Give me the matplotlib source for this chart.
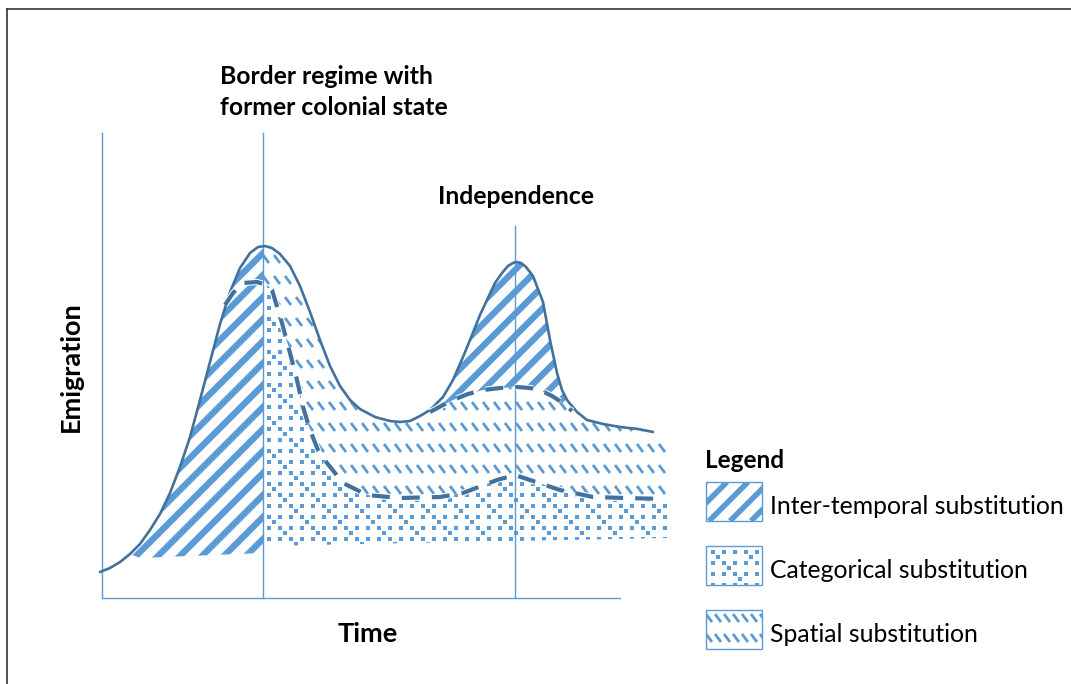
import numpy as np
import matplotlib.pyplot as plt
from matplotlib.patches import Polygon, Rectangle
from matplotlib.collections import LineCollection
import matplotlib.patheffects as pe

# emigration curve (x = time, y = level, screen units, y downwards)
emig_x = [100, 110, 120, 130, 140, 150, 160, 170, 180, 190, 200, 210, 220, 230, 240, 250,
          258, 265, 272, 280, 290, 300, 310, 320, 330, 340, 350, 360, 375, 390, 400, 410,
          420, 430, 443, 453, 463, 470, 480, 487, 495, 502, 508, 513, 517, 521, 526, 533, 543, 550,
          557, 562, 567, 577, 587, 603, 620, 638, 653]
emig_y = [572, 568, 562, 554, 544, 530, 514, 493, 467, 437, 400, 362, 324, 292, 268, 253,
          247, 246, 248, 254, 266, 286, 312, 340, 366, 386, 400, 409, 417, 421, 422, 421,
          416, 410, 397, 380, 357, 340, 315, 300, 283, 273, 266, 263, 262, 263, 267, 276, 302, 340,
          373, 390, 400, 412, 420, 424, 427, 429, 432]

# lower dashed line (after the first peak)
low_x = [225, 233, 243, 257, 267, 272, 282, 290, 297, 303, 310, 318, 327, 343, 367, 400,
         440, 463, 497, 515, 530, 560, 593, 625, 665]
low_y = [305, 293, 283, 282, 285, 290, 323, 353, 380, 407, 430, 450, 463, 483, 495, 498,
         497, 493, 480, 475, 480, 490, 497, 498, 499]

# upper dashed line (second peak)
up_x = [430, 443, 453, 468, 483, 500, 517, 530, 540, 552, 563, 572]
up_y = [412, 405, 400, 394, 390, 388, 387, 388, 390, 396, 403, 411]

border_x = 263
indep_x = 515

legend_labels = ['Inter-temporal substitution', 'Categorical substitution', 'Spatial substitution']

dark = '#41719C'
light = '#5B9BD5'
font = ['Lato', 'DejaVu Sans']

fig = plt.figure(figsize=(10.71, 6.84), dpi=100)
ax = fig.add_axes([0, 0, 1, 1])
ax.set_xlim(0, 1071)
ax.set_ylim(684, 0)
ax.axis('off')

ex = np.array(emig_x)
ey = np.array(emig_y)
lx = np.array(low_x)
ly = np.array(low_y)
ux = np.array(up_x)
uy = np.array(up_y)


def clip_poly(pts):
    p = Polygon(pts, closed=True, facecolor='none', edgecolor='none', transform=ax.transData)
    ax.add_patch(p)
    return p


def stripes(clip, x0, x1, y0, y1, step=22, lw=4.6, z=2):
    segs = []
    h = y1 - y0
    for c in np.arange(x0 - h, x1 + h, step):
        segs.append([(c, y1), (c + h, y0)])
    lc = LineCollection(segs, colors=light, linewidths=lw, zorder=z)
    ax.add_collection(lc)
    lc.set_clip_path(clip)


def dots(clip, x0, x1, y0, y1, dx=11, dy=11, z=2):
    xs, ys = [], []
    for y in np.arange(y0, y1, dy):
        for x in np.arange(x0, x1, dx):
            xs.append(x)
            ys.append(y)
    # sparse in-between rows
    for i, y in enumerate(np.arange(y0 + dy / 2, y1, dy)):
        for x in np.arange(x0 + dx / 2 + (i % 3) * dx, x1, 3 * dx):
            xs.append(x)
            ys.append(y)
    sc = ax.scatter(xs, ys, s=7.5, marker='s', color=light, linewidths=0, zorder=z)
    sc.set_clip_path(clip)


def spatial(clip, x0, x1, y0, y1, dx=11, dy=21, z=2):
    segs = []
    for y in np.arange(y0, y1, dy):
        for x in np.arange(x0, x1, dx):
            segs.append([(x, y - 4), (x + 6, y + 4)])
    lc = LineCollection(segs, colors=light, linewidths=2.0, zorder=z)
    ax.add_collection(lc)
    lc.set_clip_path(clip)


# inter-temporal, left of the border line
m = (ex >= 125) & (ex <= border_x)
pts = list(zip(ex[m], ey[m])) + [(border_x, 246), (border_x, 553), (140, 558)]
stripes(clip_poly(pts), 100, 270, 240, 560)

# inter-temporal, second peak above the upper dashed line
m = (ex > 430) & (ex < 572)
pts = list(zip(ex[m], ey[m])) + list(zip(ux[::-1], uy[::-1]))
stripes(clip_poly(pts), 420, 580, 255, 415)

# categorical, below the lower dashed line
m = lx >= border_x
pts = [(border_x, 283)] + list(zip(lx[m], ly[m])) + [(668, 499), (668, 538), (border_x, 546)]
dots(clip_poly(pts), border_x + 5.5, 670, 252.5, 550)

# spatial, between the curve and the lower dashed line
top = [(x, y) for x, y in zip(ex, ey) if border_x <= x <= 430]
top += list(zip(ux, uy))
top += [(x, y) for x, y in zip(ex, ey) if x > 572] + [(668, 435)]
bot = [(border_x, 283)] + list(zip(lx[m], ly[m])) + [(668, 499)]
pts = [(border_x, 246)] + top + bot[::-1]
spatial(clip_poly(pts), border_x, 672, 259, 505)

# axis lines and the two event lines
ax.plot([102, 102], [133, 598], color=light, lw=1.0, zorder=3)
ax.plot([102, 620], [598, 598], color=light, lw=1.0, zorder=3)
ax.plot([border_x, border_x], [133, 598], color=light, lw=1.0, zorder=3)
ax.plot([indep_x, indep_x], [226, 598], color=light, lw=1.0, zorder=3)

# curves
ax.plot(ex, ey, color=dark, lw=1.9, zorder=4, solid_capstyle='round')
halo = [pe.Stroke(linewidth=4.5, foreground='white'), pe.Normal()]
ax.plot(lx, ly, color=dark, lw=3.0, dashes=(4.3, 2.9), dash_capstyle='butt', zorder=5,
        path_effects=halo)
ax.plot(ux, uy, color=dark, lw=3.0, dashes=(4.3, 2.9), dash_capstyle='butt', zorder=5,
        path_effects=halo)

# texts
ax.text(220, 92, 'Border regime with\nformer colonial state', fontsize=17.8, fontweight='bold',
        family=font, va='center', ha='left', linespacing=1.4)
ax.text(516, 197, 'Independence', fontsize=17.8, fontweight='bold', family=font,
        va='center', ha='center')
ax.text(71, 367, 'Emigration', fontsize=19.5, fontweight='bold', family=font,
        va='center', ha='center', rotation=90)
ax.text(368, 634, 'Time', fontsize=19.5, fontweight='bold', family=font,
        va='center', ha='center')

# legend
ax.text(705, 460, 'Legend', fontsize=17.5, fontweight='bold', family=font, va='center', ha='left')
boxes = [(706, 482), (706, 546), (706, 610)]
for k, ((bx, by), lab) in enumerate(zip(boxes, legend_labels)):
    r = Rectangle((bx, by), 56, 39, facecolor='white', edgecolor=light, lw=1.0, zorder=3)
    ax.add_patch(r)
    clip = Rectangle((bx, by), 56, 39, facecolor='none', edgecolor='none', transform=ax.transData)
    ax.add_patch(clip)
    if k == 0:
        stripes(clip, bx, bx + 56, by, by + 39, step=21, lw=4.0, z=4)
    elif k == 1:
        dots(clip, bx + 6.5, bx + 56, by + 5.5, by + 39, dx=11, dy=11, z=4)
    else:
        spatial(clip, bx, bx + 56, by + 8, by + 39, dx=9, dy=20, z=4)
    ax.text(bx + 64, by + 25, lab, fontsize=17.8, family=font, va='center', ha='left')

# outer frame (top and left)
ax.plot([7, 1071], [9, 9], color='#333333', lw=1.2, zorder=6)
ax.plot([7, 7], [9, 684], color='#333333', lw=1.2, zorder=6)

fig.savefig('out.png', dpi=100)
